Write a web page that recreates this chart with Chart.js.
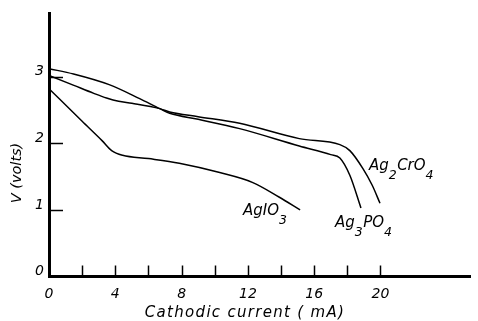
<!DOCTYPE html>
<html>
<head>
<meta charset="utf-8">
<script src="https://cdn.jsdelivr.net/npm/chart.js@4.4.1/dist/chart.umd.min.js"></script>
<style>
  html, body { margin: 0; padding: 0; background: #fff; }
  #wrap { width: 478px; height: 321px; }
</style>
</head>
<body>
<div id="wrap"><canvas id="cell"></canvas></div>
<script>
// discharge curves (current in mA, voltage in V)
const ag3po4I = [0, 1.48, 3.63, 5.47, 6.68, 7.28, 9.0, 11.5, 15.1, 17.0, 17.55, 18.15, 18.82];
const ag3po4V = [3.12, 3.04, 2.88, 2.67, 2.52, 2.45, 2.36, 2.22, 1.96, 1.83, 1.78, 1.52, 1.03];

const ag2cro4I = [0, 1.5, 2.7, 3.47, 4.2, 5.0, 6.68, 7.28, 9.0, 11.5, 15.1, 17.55, 18.15, 18.94, 19.5, 19.97];
const ag2cro4V = [3.02, 2.87, 2.75, 2.68, 2.63, 2.60, 2.52, 2.47, 2.40, 2.30, 2.07, 1.98, 1.89, 1.62, 1.37, 1.10];

const agio3I = [0, 2.0, 3.2, 3.78, 4.44, 6.0, 7.86, 10.3, 12.3, 13.9, 15.15];
const agio3V = [2.82, 2.33, 2.04, 1.89, 1.82, 1.77, 1.70, 1.56, 1.41, 1.19, 1.00];

const xLabels = [0, 4, 8, 12, 16, 20];
const xMarks = [2, 4, 6, 8, 10, 12, 14, 16, 18, 20];
const yLabels = [0, 1, 2, 3];
const yMarks = [1, 2, 3];

// curve names, placed in data units
const curveNames = [
  { parts: [["Ag"], ["3", 1], ["PO"], ["4", 1]], x: 17.25, y: 0.74 },
  { parts: [["Ag"], ["2", 1], ["CrO"], ["4", 1]], x: 19.3, y: 1.6 },
  { parts: [["AgIO"], ["3", 1]], x: 11.7, y: 0.92 }
];

function pts(xs, ys) {
  return xs.map((v, i) => ({ x: v, y: ys[i] }));
}

const FONT = '"DejaVu Sans"';

const decor = {
  id: 'decor',
  afterDraw(chart) {
    const { ctx, chartArea, scales: { x, y } } = chart;
    ctx.save();
    ctx.strokeStyle = '#000';
    ctx.lineWidth = 1.5;
    xMarks.forEach(v => {
      const px = Math.round(x.getPixelForValue(v)) + 0.5;
      ctx.beginPath();
      ctx.moveTo(px, chartArea.bottom);
      ctx.lineTo(px, chartArea.bottom - 11);
      ctx.stroke();
    });
    yMarks.forEach(v => {
      const py = Math.round(y.getPixelForValue(v)) + 0.5;
      ctx.beginPath();
      ctx.moveTo(chartArea.left, py);
      ctx.lineTo(chartArea.left + 14, py);
      ctx.stroke();
    });

    ctx.fillStyle = '#000';
    ctx.textBaseline = 'alphabetic';
    ctx.textAlign = 'left';
    curveNames.forEach(n => {
      let px = x.getPixelForValue(n.x);
      const py = y.getPixelForValue(n.y);
      n.parts.forEach(([t, sub]) => {
        ctx.font = sub ? 'italic 12.5px ' + FONT : 'italic 15px ' + FONT;
        ctx.fillText(t, px, sub ? py + 9 : py);
        px += ctx.measureText(t).width + (sub ? 0.5 : 0);
      });
    });

    // axis titles
    ctx.font = 'italic 15px ' + FONT;
    ctx.textAlign = 'center';
    ctx.textBaseline = 'middle';
    ctx.letterSpacing = '1.3px';
    ctx.fillText('Cathodic current ( mA)', 245, 313);
    ctx.letterSpacing = '0px';
    ctx.translate(17, 173);
    ctx.rotate(-Math.PI / 2);
    ctx.font = 'italic 14.5px ' + FONT;
    ctx.fillText('V (volts)', 0, 0);
    ctx.restore();
  }
};

const line = (label, xs, ys) => ({
  label,
  data: pts(xs, ys),
  borderColor: '#000',
  borderWidth: 1.5,
  pointRadius: 0,
  fill: false,
  cubicInterpolationMode: 'monotone'
});

new Chart(document.getElementById('cell'), {
  type: 'line',
  data: {
    datasets: [
      line('Ag3PO4', ag3po4I, ag3po4V),
      line('Ag2CrO4', ag2cro4I, ag2cro4V),
      line('AgIO3', agio3I, agio3V)
    ]
  },
  options: {
    responsive: true,
    maintainAspectRatio: false,
    animation: false,
    layout: { padding: { top: 12.5, right: 8, left: 0, bottom: 0 } },
    plugins: { legend: { display: false }, tooltip: { enabled: false } },
    scales: {
      x: {
        type: 'linear',
        min: 0,
        max: 25.4,
        afterBuildTicks: s => { s.ticks = xLabels.map(v => ({ value: v })); },
        afterFit: s => { s.height = 44.5; },
        border: { color: '#000', width: 3 },
        grid: { drawOnChartArea: false, drawTicks: false, color: 'rgba(0,0,0,0)' },
        ticks: {
          color: '#000',
          padding: 9,
          maxRotation: 0,
          font: { family: 'DejaVu Sans', style: 'italic', size: 14 }
        }
      },
      y: {
        type: 'linear',
        min: 0,
        max: 3.95,
        afterBuildTicks: s => { s.ticks = yLabels.map(v => ({ value: v })); },
        afterFit: s => { s.width = 49; },
        border: { color: '#000', width: 3 },
        grid: { drawOnChartArea: false, drawTicks: false, color: 'rgba(0,0,0,0)' },
        ticks: {
          color: '#000',
          padding: 5,
          labelOffset: -5,
          font: { family: 'DejaVu Sans', style: 'italic', size: 14 }
        }
      }
    }
  },
  plugins: [decor]
});
</script>
</body>
</html>
